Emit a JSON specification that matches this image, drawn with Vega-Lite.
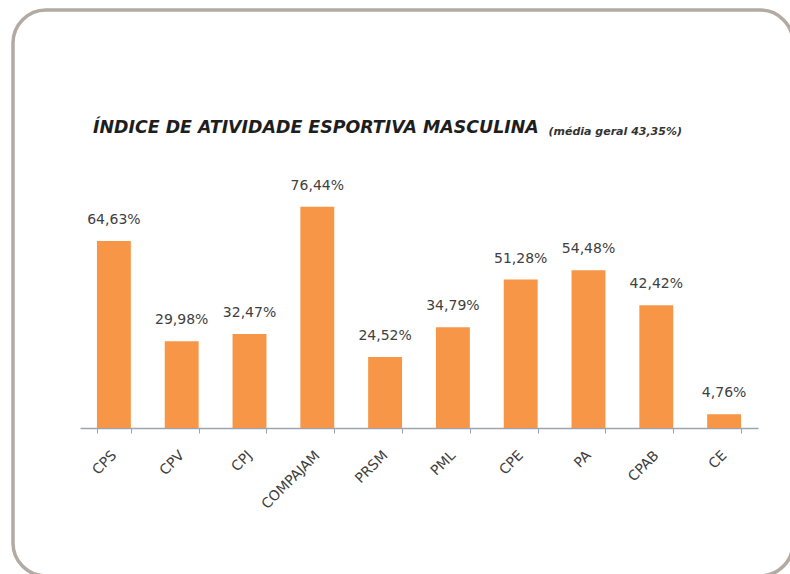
{
  "$schema": "https://vega.github.io/schema/vega-lite/v6.json",
  "autosize": "none",
  "padding": {"left": 13, "top": 10, "right": 0, "bottom": 0},
  "width": 780,
  "height": 566,
  "background": "white",
  "config": {
    "view": {"stroke": "#b3aaa3", "strokeWidth": 3.5, "cornerRadius": 33},
    "locale": {"number": {"decimal": ",", "thousands": ".", "grouping": [3], "currency": ["R$", ""]}}
  },
  "title": {
    "text": "ÍNDICE DE ATIVIDADE ESPORTIVA MASCULINA",
    "anchor": "start",
    "frame": "group",
    "orient": "top",
    "offset": 0,
    "dx": 80,
    "dy": 140,
    "baseline": "alphabetic",
    "font": "DejaVu Sans",
    "fontSize": 17.4,
    "fontWeight": "bold",
    "fontStyle": "italic",
    "color": "#1e1e1e"
  },
  "data": {
    "values": [
      {"unidade": "CPS", "indice": 0.6463},
      {"unidade": "CPV", "indice": 0.2998},
      {"unidade": "CPJ", "indice": 0.3247},
      {"unidade": "COMPAJAM", "indice": 0.7644},
      {"unidade": "PRSM", "indice": 0.2452},
      {"unidade": "PML", "indice": 0.3479},
      {"unidade": "CPE", "indice": 0.5128},
      {"unidade": "PA", "indice": 0.5448},
      {"unidade": "CPAB", "indice": 0.4242},
      {"unidade": "CE", "indice": 0.0476}
    ]
  },
  "encoding": {
    "x": {
      "field": "unidade",
      "type": "nominal",
      "sort": null,
      "scale": {"range": [67, 745], "paddingInner": 0.5, "paddingOuter": 0.25},
      "axis": {
        "title": null,
        "offset": -148,
        "labelAngle": -45,
        "labelAlign": "right",
        "labelBaseline": "middle",
        "labelPadding": 20,
        "labelFont": "DejaVu Sans",
        "labelFontSize": 14,
        "labelColor": "#404040",
        "labelOverlap": false,
        "labelBound": false,
        "tickBand": "extent",
        "tickSize": 5,
        "tickColor": "#9aa5b1",
        "domainColor": "#9aa5b1",
        "domainWidth": 1.5
      }
    },
    "y": {
      "field": "indice",
      "type": "quantitative",
      "scale": {"domain": [0, 1], "range": [418, 128.6]},
      "axis": {
        "domain": false,
        "ticks": false,
        "labels": false,
        "grid": false,
        "title": "(média geral 43,35%)",
        "titleAngle": 0,
        "titleX": 535,
        "titleY": 124,
        "titleAlign": "left",
        "titleBaseline": "alphabetic",
        "titleFont": "DejaVu Sans",
        "titleFontSize": 11,
        "titleFontWeight": "bold",
        "titleFontStyle": "italic",
        "titleColor": "#333333"
      }
    }
  },
  "layer": [
    {"mark": {"type": "bar", "color": "#f79646"}},
    {
      "mark": {"type": "text", "dy": -17, "baseline": "alphabetic", "font": "DejaVu Sans", "fontSize": 14, "color": "#404040"},
      "encoding": {"text": {"field": "indice", "type": "quantitative", "format": ".2%"}}
    }
  ]
}
